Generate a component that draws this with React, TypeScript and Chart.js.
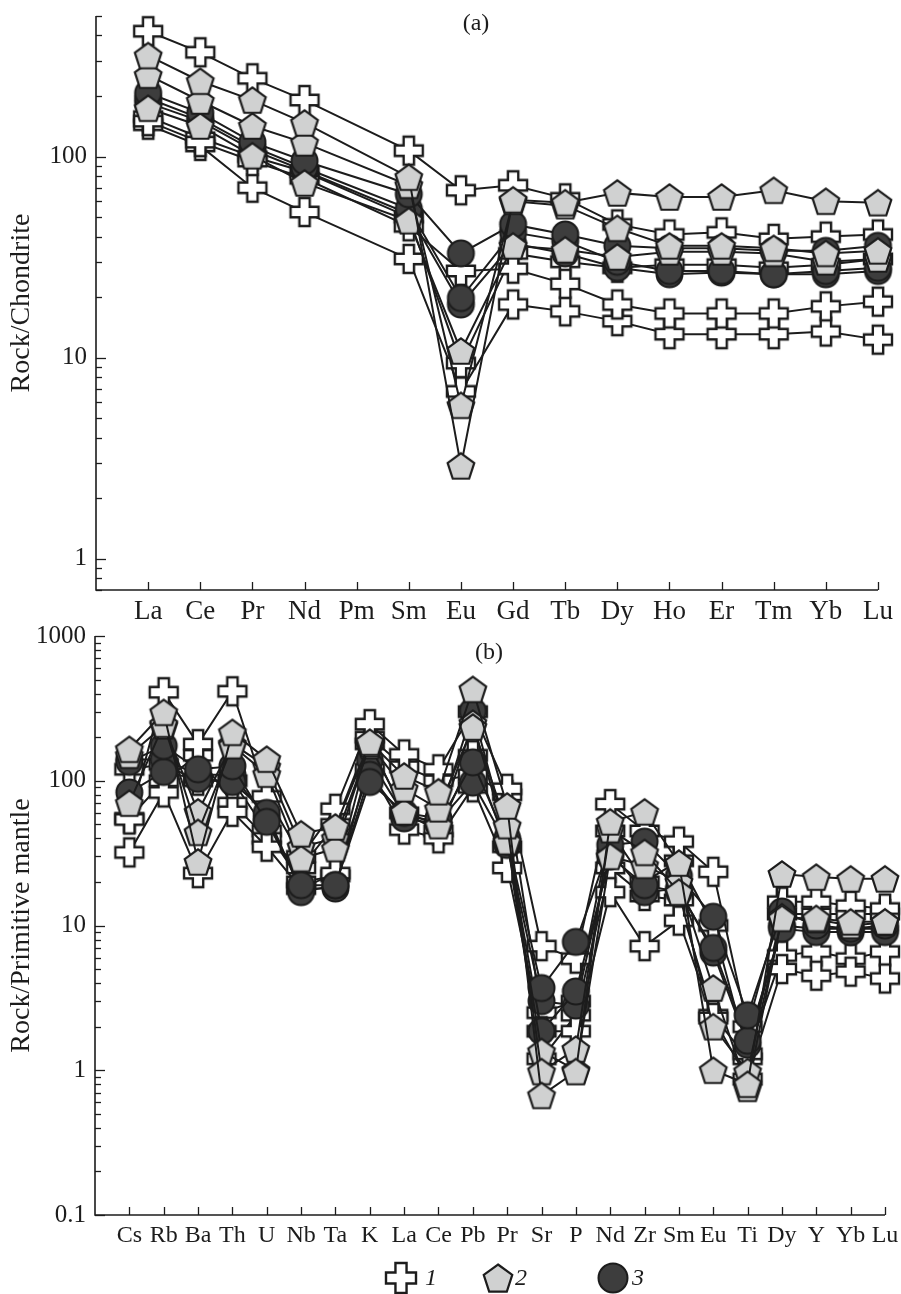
import React, { useEffect, useRef } from "react";
import { Chart, registerables } from "chart.js";

Chart.register(...registerables);

const FONT = "'Liberation Serif', 'Times New Roman', Times, serif";
const INK = "#1c1c1c";
const W = 901;

// ---------- Panel (a): REE / chondrite ----------
const reeElements = ["La", "Ce", "Pr", "Nd", "Pm", "Sm", "Eu", "Gd", "Tb", "Dy", "Ho", "Er", "Tm", "Yb", "Lu"];
const reeTicks = [1, 10, 100];

// group 1 (crosses)
const reeG1a = [420, 330, 245, 191, null, 107, 68, 72, 62, 46, 41, 42, 39, 40, 41];
const reeG1b = [150, 118, 95, 78, null, 45, 27, 27.7, 23.3, 18.4, 16.6, 16.6, 16.6, 18, 19];
const reeG1c = [158, 124, 100, 84, null, 50, 9.4, 33, 30, 28, 29, 29, 28, 29, 31];
const reeG1d = [144, 113, 70, 53, null, 31, 6.8, 18.4, 17, 15.2, 13.1, 13.1, 13.1, 13.5, 12.3];
// group 2 (pentagons)
const reeG2a = [318, 237, 191, 147, null, 79, 2.9, 61, 59, 66, 63, 63, 68, 60, 59];
const reeG2b = [254, 189, 142, 117, null, 72, 5.8, 60, 57, 44, 36, 36, 35, 33, 34];
const reeG2c = [174, 142, 101, 74, null, 48, 10.8, 36, 34.4, 31.7, 33.6, 33.6, 33, 30, 31];
// group 3 (circles)
const reeG3a = [207, 165, 118, 95, null, 65, 33, 46, 41, 36, 35, 35, 34, 34, 36];
const reeG3b = [195, 155, 112, 88, null, 55, 19.8, 42, 38, 30, 27, 27, 26, 27, 28];
const reeG3c = [185, 150, 108, 85, null, 52, 18.4, 37, 33, 28, 26, 26.5, 26, 26, 27];

// ---------- Panel (b): spider / primitive mantle ----------
const spiderElements = ["Cs", "Rb", "Ba", "Th", "U", "Nb", "Ta", "K", "La", "Ce", "Pb", "Pr", "Sr", "P", "Nd", "Zr", "Sm", "Eu", "Ti", "Dy", "Y", "Yb", "Lu"];
const spiderTicks = [0.1, 1, 10, 100, 1000];

// group 1 (crosses)
const spG1a = [54, 409, 179, 415, 78, 30, 64, 246, 152, 120, 300, 88, 7.2, 5.9, 69, 45, 38, 23.5, 2.0, 14.6, 14.6, 13.7, 13.1];
const spG1b = [32, 83, 23, 61, 35, 18, 23, 120, 46, 40, 90, 25, 1.86, 1.86, 17, 7.2, 10.8, 2.3, 0.87, 5.0, 4.5, 4.8, 4.3];
const spG1c = [55, 100, 150, 70, 40, 25, 50, 200, 125, 100, 110, 80, 2.5, 3.0, 45, 20, 28, 10, 1.3, 6.2, 6.6, 5.9, 6.6];
const spG1d = [120, 130, 100, 100, 45, 20, 22, 180, 60, 45, 150, 35, 1.2, 2.4, 25, 16, 15, 2.4, 1.2, 12, 12, 12, 12];
// group 2 (pentagons)
const spG2a = [165, 297, 27.5, 216, 141, 43, 48, 185, 108, 84, 428, 67, 0.67, 0.98, 52, 61, 27, 1.0, 0.8, 22.7, 21.6, 21, 21];
const spG2b = [70, 246, 44, 175, 111, 29, 34, 180, 88, 64, 235, 49, 0.98, 1.4, 46, 32, 17, 2.0, 0.98, 11.2, 11.2, 10.6, 10.6];
const spG2c = [150, 240, 61, 180, 125, 35, 40, 175, 61, 49, 250, 38, 1.35, 1.0, 30, 26, 20, 3.7, 0.75, 11.5, 11, 10, 10.5];
// group 3 (circles)
const spG3a = [135, 174, 120, 126, 52, 19, 19, 98, 60, 55, 303, 40, 3.7, 7.7, 36, 38, 22, 11.5, 2.4, 12.5, 10, 9.5, 10];
const spG3b = [83, 115, 103, 98, 60, 17, 19, 110, 55, 50, 134, 38, 1.86, 3.5, 30, 19, 17, 7.0, 1.6, 9.5, 9, 9, 9];
const spG3c = [140, 140, 110, 110, 55, 18, 18, 140, 58, 52, 97, 36, 3.0, 2.8, 32, 17, 18, 6.5, 1.5, 10, 9.5, 9.5, 9.5];

const legendLabels = ["1", "2", "3"];

type Series = { values: (number | null)[]; group: number };

function makeMarker(group: number, size: number): HTMLCanvasElement {
  const pad = 3;
  const dim = Math.ceil(size + pad * 2);
  const c = document.createElement("canvas");
  c.width = dim;
  c.height = dim;
  const ctx = c.getContext("2d")!;
  const cx = dim / 2;
  const cy = dim / 2;
  const h = size / 2;
  ctx.strokeStyle = INK;
  ctx.lineJoin = "miter";
  ctx.beginPath();
  if (group === 1) {
    const a = size * 0.185;
    const pts = [[-a, -h], [a, -h], [a, -a], [h, -a], [h, a], [a, a], [a, h], [-a, h], [-a, a], [-h, a], [-h, -a], [-a, -a]];
    pts.forEach(([x, y], i) => (i ? ctx.lineTo(cx + x, cy + y) : ctx.moveTo(cx + x, cy + y)));
    ctx.closePath();
    ctx.fillStyle = "#ffffff";
    ctx.lineWidth = 2.4;
  } else if (group === 2) {
    const R = h;
    const oy = R * 0.1;
    for (let k = 0; k < 5; k++) {
      const ang = -Math.PI / 2 + (k * 2 * Math.PI) / 5;
      const x = cx + R * Math.cos(ang);
      const y = cy + oy + R * Math.sin(ang);
      if (k === 0) ctx.moveTo(x, y);
      else ctx.lineTo(x, y);
    }
    ctx.closePath();
    ctx.fillStyle = "#d0d1d1";
    ctx.lineWidth = 2.2;
  } else {
    ctx.arc(cx, cy, h - 0.5, 0, Math.PI * 2);
    ctx.fillStyle = "#3d3d3d";
    ctx.lineWidth = 2;
  }
  ctx.fill();
  ctx.stroke();
  return c;
}

const framePlugin = {
  id: "frame",
  beforeDatasetsDraw(chart: any, _args: any, opts: any) {
    const { ctx, chartArea } = chart;
    const xs = chart.scales.x;
    const ys = chart.scales.y;
    const { left, right, top, bottom } = chartArea;
    ctx.save();
    ctx.strokeStyle = INK;
    ctx.lineWidth = 1.6;
    ctx.beginPath();
    ctx.moveTo(left, top);
    ctx.lineTo(left, bottom);
    ctx.lineTo(right, bottom);
    ctx.stroke();
    ctx.lineWidth = 1.3;
    const lo = Math.floor(Math.log10(ys.min));
    const hi = Math.ceil(Math.log10(ys.max));
    for (let d = lo; d <= hi; d++) {
      for (let m = 1; m <= 9; m++) {
        const v = m * Math.pow(10, d);
        if (v < ys.min * 0.999 || v > ys.max * 1.001) continue;
        const py = Math.round(ys.getPixelForValue(v)) + 0.5;
        const len = m === 1 ? 10 : 6;
        ctx.beginPath();
        ctx.moveTo(left, py);
        ctx.lineTo(left + len, py);
        ctx.stroke();
      }
    }
    for (let i = 0; i < opts.count; i++) {
      const px = Math.round(xs.getPixelForValue(i)) + 0.5;
      ctx.beginPath();
      ctx.moveTo(px, bottom);
      ctx.lineTo(px, bottom - 8);
      ctx.stroke();
    }
    ctx.fillStyle = INK;
    ctx.font = `24px ${FONT}`;
    ctx.textAlign = "center";
    ctx.textBaseline = "middle";
    ctx.fillText(opts.tag, opts.tagX, opts.tagY);
    ctx.restore();
  },
  afterDraw(chart: any, _args: any, opts: any) {
    if (!opts.legend) return;
    const { ctx } = chart;
    ctx.save();
    const items = [
      { g: 1, x: 401, tx: 425 },
      { g: 2, x: 498, tx: 515 },
      { g: 3, x: 613, tx: 632 },
    ];
    const y = opts.legendY;
    items.forEach((it, i) => {
      const img = makeMarker(it.g, 30);
      ctx.drawImage(img, it.x - img.width / 2, y - img.height / 2);
      ctx.fillStyle = INK;
      ctx.font = `italic 24px ${FONT}`;
      ctx.textAlign = "left";
      ctx.textBaseline = "middle";
      ctx.fillText(legendLabels[i], it.tx, y + 1);
    });
    ctx.restore();
  },
};

interface PanelSpec {
  labels: string[];
  series: Series[];
  min: number;
  max: number;
  majors: number[];
  height: number;
  area: { left: number; top: number; right: number; bottom: number };
  xFont: number;
  yTitle: string;
  tag: string;
  tagX: number;
  tagY: number;
  legend?: boolean;
  legendY?: number;
}

function buildChart(canvas: HTMLCanvasElement, spec: PanelSpec): Chart {
  const markers: Record<number, HTMLCanvasElement> = {
    1: makeMarker(1, 28),
    2: makeMarker(2, 28),
    3: makeMarker(3, 27),
  };
  const idx = spec.labels.map((_, i) => i);
  const datasets = spec.series.map((s) => ({
    data: s.values
      .map((v, i) => (v == null ? null : { x: i, y: v }))
      .filter((p) => p !== null) as { x: number; y: number }[],
    borderColor: INK,
    borderWidth: 2,
    pointStyle: markers[s.group] as any,
    pointRadius: 14,
    pointHoverRadius: 14,
    tension: 0,
    clip: false as any,
    order: s.group === 2 ? 0 : s.group === 3 ? 1 : 2,
  }));
  const fmt = (v: number) => (v < 1 ? v.toFixed(1) : String(Math.round(v)));
  return new Chart(canvas, {
    type: "line",
    data: { datasets },
    options: {
      animation: false,
      responsive: false,
      events: [],
      layout: {
        padding: { left: 0, top: spec.area.top, right: W - spec.area.right, bottom: 0 },
      },
      plugins: {
        legend: { display: false },
        tooltip: { enabled: false },
        frame: {
          count: spec.labels.length,
          tag: spec.tag,
          tagX: spec.tagX,
          tagY: spec.tagY,
          legend: !!spec.legend,
          legendY: spec.legendY,
        },
      } as any,
      scales: {
        x: {
          type: "linear",
          min: -1,
          max: spec.labels.length - 1,
          grid: { display: false, drawTicks: false },
          border: { display: false },
          afterBuildTicks: (s: any) => {
            s.ticks = idx.map((v) => ({ value: v }));
          },
          afterFit: (s: any) => {
            s.height = spec.height - spec.area.bottom;
            s.paddingLeft = 0;
            s.paddingRight = 0;
          },
          ticks: {
            autoSkip: false,
            maxRotation: 0,
            minRotation: 0,
            padding: 6,
            color: INK,
            font: { family: FONT, size: spec.xFont },
            callback: (v: any) => spec.labels[v as number] ?? "",
          },
        },
        y: {
          type: "logarithmic",
          min: spec.min,
          max: spec.max,
          grid: { display: false, drawTicks: false },
          border: { display: false },
          afterBuildTicks: (s: any) => {
            s.ticks = spec.majors.map((v) => ({ value: v, major: true }));
          },
          afterFit: (s: any) => {
            s.width = spec.area.left;
            s.paddingTop = 0;
            s.paddingBottom = 0;
          },
          ticks: {
            autoSkip: false,
            padding: 9,
            color: INK,
            font: { family: FONT, size: 25 },
            callback: (v: any) => fmt(Number(v)),
          },
          title: {
            display: true,
            text: spec.yTitle,
            color: INK,
            font: { family: FONT, size: 28 },
            padding: { top: 5, bottom: 0 },
          },
        },
      },
    } as any,
    plugins: [framePlugin as any],
  });
}

export default function App() {
  const refA = useRef<HTMLCanvasElement>(null);
  const refB = useRef<HTMLCanvasElement>(null);

  useEffect(() => {
    const chartA = buildChart(refA.current!, {
      labels: reeElements,
      series: [
        { values: reeG1a, group: 1 },
        { values: reeG1b, group: 1 },
        { values: reeG1c, group: 1 },
        { values: reeG1d, group: 1 },
        { values: reeG3a, group: 3 },
        { values: reeG3b, group: 3 },
        { values: reeG3c, group: 3 },
        { values: reeG2a, group: 2 },
        { values: reeG2b, group: 2 },
        { values: reeG2c, group: 2 },
      ],
      min: 0.7,
      max: 500,
      majors: reeTicks,
      height: 640,
      area: { left: 96, top: 13, right: 878, bottom: 590 },
      xFont: 27,
      yTitle: "Rock/Chondrite",
      tag: "(a)",
      tagX: 476,
      tagY: 24,
    });
    const chartB = buildChart(refB.current!, {
      labels: spiderElements,
      series: [
        { values: spG1a, group: 1 },
        { values: spG1b, group: 1 },
        { values: spG1c, group: 1 },
        { values: spG1d, group: 1 },
        { values: spG3a, group: 3 },
        { values: spG3b, group: 3 },
        { values: spG3c, group: 3 },
        { values: spG2a, group: 2 },
        { values: spG2b, group: 2 },
        { values: spG2c, group: 2 },
      ],
      min: 0.1,
      max: 1000,
      majors: spiderTicks,
      height: 674,
      area: { left: 95, top: 16, right: 886, bottom: 595 },
      xFont: 24,
      yTitle: "Rock/Primitive mantle",
      tag: "(b)",
      tagX: 489,
      tagY: 33,
      legend: true,
      legendY: 658,
    });
    return () => {
      chartA.destroy();
      chartB.destroy();
    };
  }, []);

  return (
    <div style={{ position: "absolute", left: 0, top: 0, width: W, height: 1294, background: "#fff" }}>
      <canvas ref={refA} width={W} height={640} style={{ position: "absolute", left: 0, top: 0 }} />
      <canvas ref={refB} width={W} height={674} style={{ position: "absolute", left: 0, top: 620 }} />
    </div>
  );
}
